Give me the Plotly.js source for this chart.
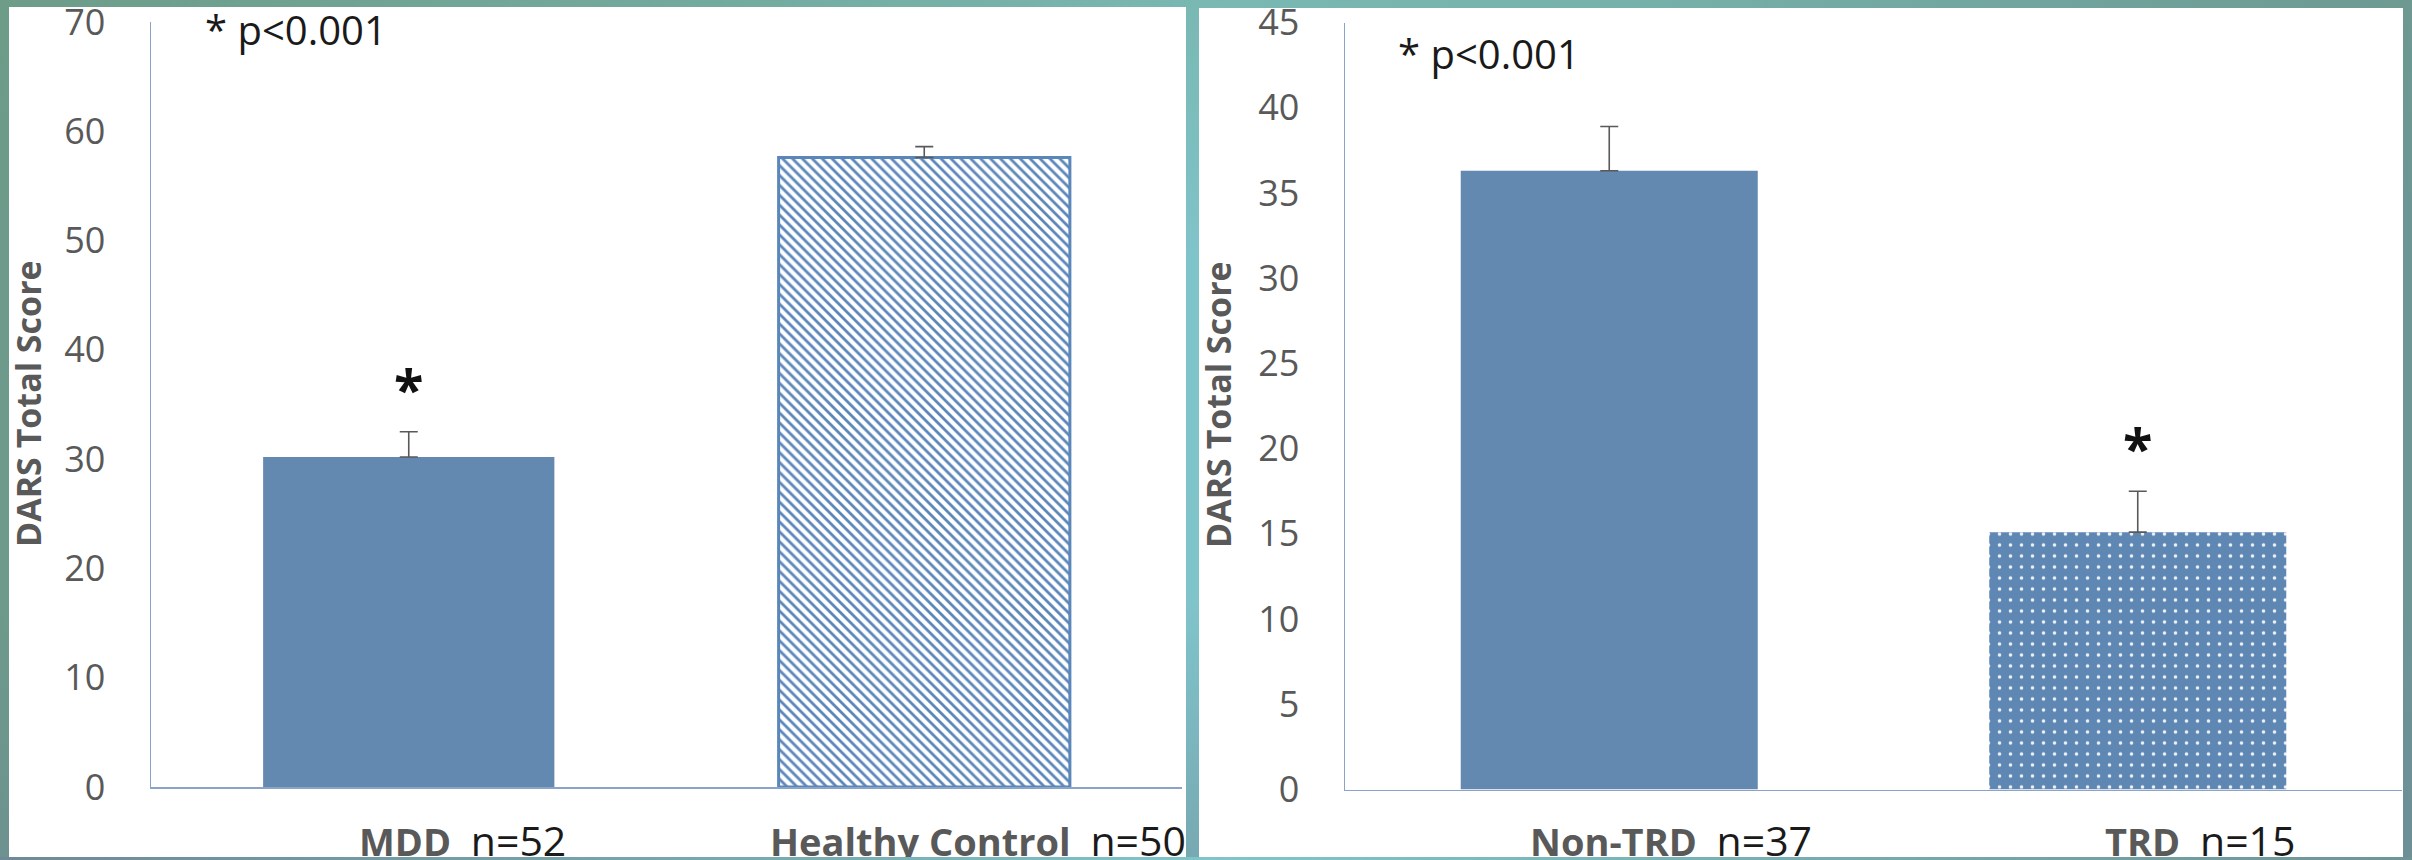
<!DOCTYPE html>
<html>
<head>
<meta charset="utf-8">
<script src="https://cdn.plot.ly/plotly-3.0.1.min.js"></script>
<style>
  html, body { margin: 0; padding: 0; width: 2412px; height: 860px; overflow: hidden; }
  body {
    background:
      linear-gradient(180deg, rgba(110,160,135,0.35) 0%, rgba(110,160,135,0) 30%, rgba(110,135,150,0) 70%, rgba(110,135,150,0.45) 100%),
      linear-gradient(90deg, #6d9a8a 0%, #76b0ab 30%, #7ec2c6 48%, #80c5cb 50%, #7bbcbf 65%, #72a6a8 85%, #6c9596 100%);
  }
  #chart { position: absolute; left: 0; top: 0; width: 2412px; height: 860px; }
  #bottomstrip {
    position: absolute; left: 0; top: 857px; width: 2412px; height: 3px;
    background: linear-gradient(90deg, #6f8a96 0%, #78aeb2 35%, #80c5cb 50%, #78b2b6 70%, #6f9496 100%);
    z-index: 10;
  }
</style>
</head>
<body>
<div id="chart"></div>
<div id="bottomstrip"></div>
<script>
// ---------------- data ----------------
const leftCategories = ['MDD', 'Healthy Control'];
const leftMeans = [30.2, 57.6];
const leftErrors = [2.3, 1.0];
const leftN = [52, 50];
const leftSignificant = [true, false];

const rightCategories = ['Non-TRD', 'TRD'];
const rightMeans = [36.3, 15.1];
const rightErrors = [2.6, 2.4];
const rightN = [37, 15];
const rightSignificant = [false, true];

const leftTickValues = [0, 10, 20, 30, 40, 50, 60, 70];
const rightTickValues = [0, 5, 10, 15, 20, 25, 30, 35, 40, 45];

const yTitle = 'DARS Total Score';
const pNote = '* p&lt;0.001';

// ---------------- styling ----------------
const W = 2412, H = 860;
const px = v => v / W;
const py = v => 1 - v / H;

const BLUE = '#6389b1';
const HATCH = '#5b86b9';
const DOTBG = '#5f87b3';
const GRAY = '#595959';
const AXIS = '#8aa3c6';
const BOLD_FONT = '"Open Sans", "Liberation Sans", sans-serif';
const REG_FONT = '"Open Sans", "Liberation Sans", sans-serif';

const errStyle = (arr) => ({
  type: 'data', symmetric: false, array: arr, arrayminus: arr.map(() => 0),
  color: GRAY, thickness: 1.6, width: 9, visible: true
});

const traces = [
  {
    type: 'bar', x: leftCategories, y: leftMeans, xaxis: 'x', yaxis: 'y',
    width: 0.565,
    marker: {
      color: BLUE,
      line: { color: [BLUE, HATCH], width: [0, 3] },
      pattern: {
        shape: ['', '\\'], fgcolor: [BLUE, HATCH], bgcolor: [BLUE, 'white'],
        fgopacity: 1, size: 7, solidity: 0.4, fillmode: 'replace'
      }
    },
    error_y: errStyle(leftErrors),
    hoverinfo: 'skip', showlegend: false
  },
  {
    type: 'bar', x: rightCategories, y: rightMeans, xaxis: 'x2', yaxis: 'y2',
    width: 0.562,
    marker: {
      color: BLUE,
      line: { width: 0 },
      pattern: {
        shape: ['', '.'], fgcolor: ['white', 'white'], bgcolor: [BLUE, DOTBG],
        fgopacity: 0.9, size: 11, solidity: 0.08, fillmode: 'replace'
      }
    },
    error_y: errStyle(rightErrors),
    hoverinfo: 'skip', showlegend: false
  }
];

const yAxisBase = {
  showline: true, linecolor: AXIS, linewidth: 1.5, showgrid: false, zeroline: false,
  ticks: 'outside', ticklen: 37, tickcolor: 'rgba(0,0,0,0)',
  tickfont: { family: REG_FONT, size: 36, color: GRAY },
  ticklabeloverflow: 'allow',
  fixedrange: true
};
const xAxisBase = {
  type: 'category', range: [-0.5, 1.5], showline: true, linecolor: AXIS, linewidth: 1.5,
  showgrid: false, zeroline: false, showticklabels: false, ticks: '', fixedrange: true
};

const annotations = [];

function panelAnnotations(cats, means, errs, ns, sig, xref, yref, cx, cy, labelTop, pX, pY, labelShift) {
  // y-axis title
  annotations.push({
    xref: 'paper', yref: 'paper', x: px(cx), y: py(cy), xanchor: 'center', yanchor: 'middle',
    text: '<b>' + yTitle + '</b>', textangle: -90, showarrow: false,
    font: { family: BOLD_FONT, size: 34, color: GRAY }
  });
  // p-value note
  annotations.push({
    xref: 'paper', yref: 'paper', x: px(pX), y: py(pY), xanchor: 'left', yanchor: 'middle',
    text: pNote, showarrow: false, font: { family: REG_FONT, size: 40, color: '#1a1a1a' }
  });
  cats.forEach((c, i) => {
    // category label with n
    annotations.push({
      xref: xref, yref: 'paper', x: c, y: py(labelTop), xanchor: 'center', yanchor: 'top',
      xshift: labelShift, showarrow: false,
      text: '<b><span style="color:' + GRAY + '">' + c + '</span></b>&nbsp;&nbsp;' +
            '<span style="font-size:41px">n=' + ns[i] + '</span>',
      font: { family: BOLD_FONT, size: 38, color: '#1a1a1a' }
    });
    if (sig[i]) {
      annotations.push({
        xref: xref, yref: yref, x: c, y: means[i] + errs[i], xanchor: 'center', yanchor: 'bottom',
        yshift: 5, showarrow: false, text: '<b>*</b>',
        font: { family: REG_FONT, size: 54, color: '#111111' }
      });
    }
  });
}

panelAnnotations(leftCategories, leftMeans, leftErrors, leftN, leftSignificant,
  'x', 'y', 28, 404, 810, 203, 29, 54);
panelAnnotations(rightCategories, rightMeans, rightErrors, rightN, rightSignificant,
  'x2', 'y2', 1218, 405, 810, 1396, 54, 62);

const layout = {
  width: W, height: H,
  margin: { l: 0, r: 0, t: 0, b: 0, pad: 0 },
  paper_bgcolor: 'rgba(0,0,0,0)', plot_bgcolor: 'rgba(0,0,0,0)',
  showlegend: false,
  xaxis: Object.assign({}, xAxisBase, { domain: [px(151), px(1182)], anchor: 'y' }),
  yaxis: Object.assign({}, yAxisBase, { domain: [py(787), py(22)], range: [0, 70],
    tickvals: leftTickValues, anchor: 'x' }),
  xaxis2: Object.assign({}, xAxisBase, { domain: [px(1345), px(2402)], anchor: 'y2' }),
  yaxis2: Object.assign({}, yAxisBase, { domain: [py(789.5), py(22.5)], range: [0, 45],
    tickvals: rightTickValues, anchor: 'x2' }),
  shapes: [
    { type: 'rect', xref: 'paper', yref: 'paper', x0: px(9), x1: px(1186), y0: py(860), y1: py(7),
      fillcolor: 'white', line: { width: 0 }, layer: 'below' },
    { type: 'rect', xref: 'paper', yref: 'paper', x0: px(1199), x1: px(2403), y0: py(860), y1: py(8),
      fillcolor: 'white', line: { width: 0 }, layer: 'below' }
  ],
  annotations: annotations
};

Plotly.newPlot('chart', traces, layout, { staticPlot: true, displayModeBar: false });
</script>
</body>
</html>
